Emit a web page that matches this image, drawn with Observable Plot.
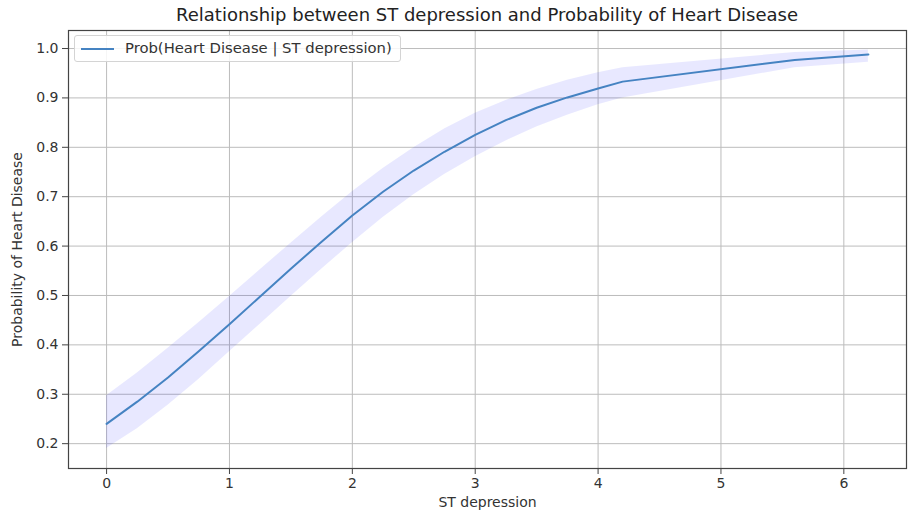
<!DOCTYPE html>
<html>
<head>
<meta charset="utf-8">
<script src="https://cdn.jsdelivr.net/npm/d3@7"></script>
<script src="https://cdn.jsdelivr.net/npm/@observablehq/plot@0.6"></script>
<style>
  html, body { margin: 0; padding: 0; background: #fff; }
  #wrap { position: relative; width: 910px; height: 513px; font-family: "DejaVu Sans", sans-serif; }
  #title { position: absolute; left: 68px; width: 838px; top: 4px; text-align: center; font-size: 18px; color: #222; }
  #legend { position: absolute; left: 74px; top: 35px; width: 327px; height: 27px; background: rgba(255,255,255,0.85);
            border: 1px solid #d4d4d4; border-radius: 3px; box-sizing: border-box; font-size: 14.8px; color: #333; }
  #legend .swatch { position: absolute; left: 6px; top: 12px; width: 33px; height: 2px; background: #4583c2; }
  #legend .txt { position: absolute; left: 50px; top: 3px; white-space: nowrap; }
</style>
</head>
<body>
<div id="wrap">
  <div id="chart"></div>
  <div id="title"></div>
  <div id="legend"><div class="swatch"></div><div class="txt"></div></div>
</div>
<script>
const titleText = "Relationship between ST depression and Probability of Heart Disease";
const xLabel = "ST depression";
const yLabel = "Probability of Heart Disease";
const seriesName = "Prob(Heart Disease | ST depression)";

const stDepression = [0, 0.25, 0.5, 0.75, 1.0, 1.25, 1.5, 1.75, 2.0, 2.25, 2.5, 2.75, 3.0, 3.25, 3.5, 3.75, 4.0, 4.2, 5.6, 6.2];
const probability  = [0.240, 0.285, 0.334, 0.387, 0.442, 0.498, 0.554, 0.609, 0.662, 0.710, 0.753, 0.791, 0.825, 0.855, 0.880, 0.901, 0.919, 0.933, 0.977, 0.988];
const lowerBound   = [0.190, 0.230, 0.278, 0.330, 0.386, 0.442, 0.498, 0.553, 0.607, 0.658, 0.704, 0.745, 0.781, 0.813, 0.841, 0.865, 0.886, 0.900, 0.961, 0.972];
const upperBound   = [0.297, 0.343, 0.393, 0.445, 0.498, 0.552, 0.606, 0.659, 0.710, 0.757, 0.799, 0.837, 0.869, 0.895, 0.917, 0.936, 0.951, 0.961, 0.992, 0.997];
const xTicks = [0, 1, 2, 3, 4, 5, 6];
const yTicks = [0.2, 0.3, 0.4, 0.5, 0.6, 0.7, 0.8, 0.9, 1.0];

const data = stDepression.map((x, i) => ({x, p: probability[i], lo: lowerBound[i], hi: upperBound[i]}));

document.getElementById("title").textContent = titleText;
document.querySelector("#legend .txt").textContent = seriesName;

const chart = Plot.plot({
  width: 910,
  height: 513,
  marginTop: 30,
  marginBottom: 45,
  marginLeft: 68,
  marginRight: 4,
  style: {fontFamily: "DejaVu Sans, sans-serif", fontSize: "14px", color: "#333", background: "#fff"},
  x: {domain: [-0.31, 6.51]},
  y: {domain: [0.1497, 1.0365]},
  marks: [
    Plot.gridX(xTicks, {stroke: "#bcbcbc", strokeOpacity: 1, strokeWidth: 1}),
    Plot.gridY(yTicks, {stroke: "#bcbcbc", strokeOpacity: 1, strokeWidth: 1}),
    Plot.areaY(data, {x: "x", y1: "lo", y2: "hi", fill: "#0000ff", fillOpacity: 0.09}),
    Plot.lineY(data, {x: "x", y: "p", stroke: "#4583c2", strokeWidth: 2, strokeLinejoin: "round"}),
    Plot.frame({stroke: "#444", strokeWidth: 1.2}),
    Plot.axisX(xTicks, {tickSize: 6, tickPadding: 4, stroke: "#444", tickFormat: d3.format("d"), label: xLabel, labelAnchor: "center", labelArrow: "none", labelOffset: 38}),
    Plot.axisY(yTicks, {tickSize: 6, tickPadding: 4, stroke: "#444", tickFormat: d3.format(".1f"), label: yLabel, labelAnchor: "center", labelArrow: "none", labelOffset: 56})
  ]
});
document.getElementById("chart").appendChild(chart);
</script>
</body>
</html>
